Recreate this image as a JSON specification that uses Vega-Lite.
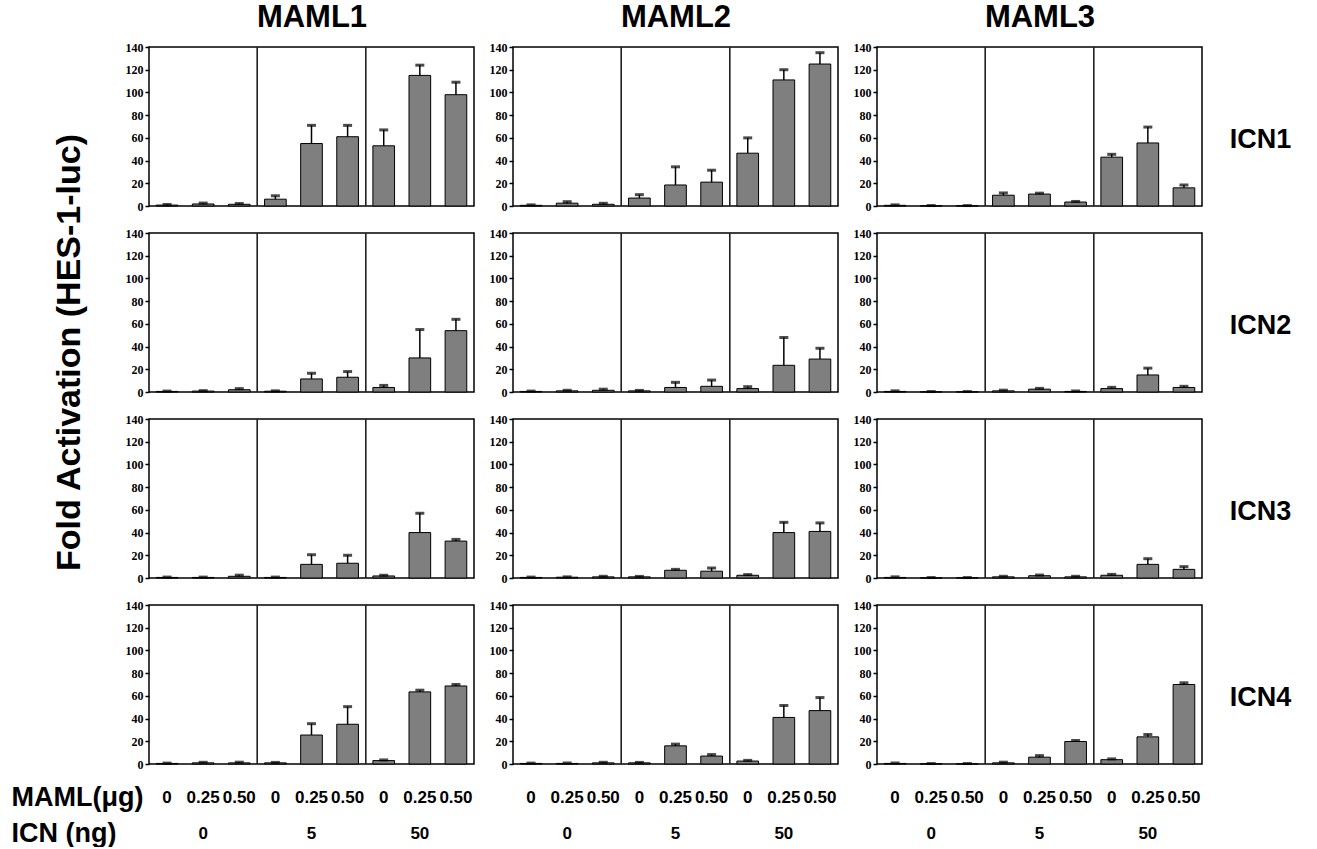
{
"$schema": "https://vega.github.io/schema/vega-lite/v6.json",
"background": "white",
"padding": {"left": 10, "top": 0, "right": 5, "bottom": 0},
"datasets": {"d": [
{"m":"MAML1","i":"ICN1","dose":"0","bar":"0_0","v":0.8,"hi":1.3},
{"m":"MAML1","i":"ICN1","dose":"0","bar":"0_0.25","v":1.8,"hi":2.6},
{"m":"MAML1","i":"ICN1","dose":"0","bar":"0_0.50","v":1.5,"hi":2.2},
{"m":"MAML1","i":"ICN1","dose":"5","bar":"5_0","v":6,"hi":9},
{"m":"MAML1","i":"ICN1","dose":"5","bar":"5_0.25","v":55,"hi":71},
{"m":"MAML1","i":"ICN1","dose":"5","bar":"5_0.50","v":61,"hi":71},
{"m":"MAML1","i":"ICN1","dose":"50","bar":"50_0","v":53,"hi":67},
{"m":"MAML1","i":"ICN1","dose":"50","bar":"50_0.25","v":115,"hi":124},
{"m":"MAML1","i":"ICN1","dose":"50","bar":"50_0.50","v":98,"hi":109},
{"m":"MAML2","i":"ICN1","dose":"0","bar":"0_0","v":0.6,"hi":1},
{"m":"MAML2","i":"ICN1","dose":"0","bar":"0_0.25","v":2.5,"hi":3.8},
{"m":"MAML2","i":"ICN1","dose":"0","bar":"0_0.50","v":1.5,"hi":2.4},
{"m":"MAML2","i":"ICN1","dose":"5","bar":"5_0","v":7,"hi":10},
{"m":"MAML2","i":"ICN1","dose":"5","bar":"5_0.25","v":18.5,"hi":34.5},
{"m":"MAML2","i":"ICN1","dose":"5","bar":"5_0.50","v":21,"hi":31.5},
{"m":"MAML2","i":"ICN1","dose":"50","bar":"50_0","v":46.5,"hi":60},
{"m":"MAML2","i":"ICN1","dose":"50","bar":"50_0.25","v":111,"hi":120},
{"m":"MAML2","i":"ICN1","dose":"50","bar":"50_0.50","v":125,"hi":135},
{"m":"MAML3","i":"ICN1","dose":"0","bar":"0_0","v":0.6,"hi":1},
{"m":"MAML3","i":"ICN1","dose":"0","bar":"0_0.25","v":0.2,"hi":0.4},
{"m":"MAML3","i":"ICN1","dose":"0","bar":"0_0.50","v":0.2,"hi":0.4},
{"m":"MAML3","i":"ICN1","dose":"5","bar":"5_0","v":9.5,"hi":11.5},
{"m":"MAML3","i":"ICN1","dose":"5","bar":"5_0.25","v":10.5,"hi":11.3},
{"m":"MAML3","i":"ICN1","dose":"5","bar":"5_0.50","v":3.5,"hi":4},
{"m":"MAML3","i":"ICN1","dose":"50","bar":"50_0","v":43,"hi":45.5},
{"m":"MAML3","i":"ICN1","dose":"50","bar":"50_0.25","v":55.5,"hi":69.5},
{"m":"MAML3","i":"ICN1","dose":"50","bar":"50_0.50","v":16,"hi":18.5},
{"m":"MAML1","i":"ICN2","dose":"0","bar":"0_0","v":0.5,"hi":0.8},
{"m":"MAML1","i":"ICN2","dose":"0","bar":"0_0.25","v":0.8,"hi":1.2},
{"m":"MAML1","i":"ICN2","dose":"0","bar":"0_0.50","v":2,"hi":3},
{"m":"MAML1","i":"ICN2","dose":"5","bar":"5_0","v":0.7,"hi":1},
{"m":"MAML1","i":"ICN2","dose":"5","bar":"5_0.25","v":11.5,"hi":16.5},
{"m":"MAML1","i":"ICN2","dose":"5","bar":"5_0.50","v":13,"hi":18},
{"m":"MAML1","i":"ICN2","dose":"50","bar":"50_0","v":4,"hi":5.8},
{"m":"MAML1","i":"ICN2","dose":"50","bar":"50_0.25","v":30,"hi":55},
{"m":"MAML1","i":"ICN2","dose":"50","bar":"50_0.50","v":54,"hi":64},
{"m":"MAML2","i":"ICN2","dose":"0","bar":"0_0","v":0.5,"hi":0.8},
{"m":"MAML2","i":"ICN2","dose":"0","bar":"0_0.25","v":1,"hi":1.5},
{"m":"MAML2","i":"ICN2","dose":"0","bar":"0_0.50","v":1.5,"hi":2.5},
{"m":"MAML2","i":"ICN2","dose":"5","bar":"5_0","v":1,"hi":1.4},
{"m":"MAML2","i":"ICN2","dose":"5","bar":"5_0.25","v":4,"hi":8.5},
{"m":"MAML2","i":"ICN2","dose":"5","bar":"5_0.50","v":5,"hi":10.5},
{"m":"MAML2","i":"ICN2","dose":"50","bar":"50_0","v":3,"hi":4.7},
{"m":"MAML2","i":"ICN2","dose":"50","bar":"50_0.25","v":23.5,"hi":48},
{"m":"MAML2","i":"ICN2","dose":"50","bar":"50_0.50","v":29,"hi":38.5},
{"m":"MAML3","i":"ICN2","dose":"0","bar":"0_0","v":0.5,"hi":1},
{"m":"MAML3","i":"ICN2","dose":"0","bar":"0_0.25","v":0.2,"hi":0.4},
{"m":"MAML3","i":"ICN2","dose":"0","bar":"0_0.50","v":0.2,"hi":0.4},
{"m":"MAML3","i":"ICN2","dose":"5","bar":"5_0","v":1,"hi":1.6},
{"m":"MAML3","i":"ICN2","dose":"5","bar":"5_0.25","v":2.5,"hi":3.2},
{"m":"MAML3","i":"ICN2","dose":"5","bar":"5_0.50","v":0.5,"hi":0.9},
{"m":"MAML3","i":"ICN2","dose":"50","bar":"50_0","v":3,"hi":4.1},
{"m":"MAML3","i":"ICN2","dose":"50","bar":"50_0.25","v":15,"hi":21},
{"m":"MAML3","i":"ICN2","dose":"50","bar":"50_0.50","v":4,"hi":5},
{"m":"MAML1","i":"ICN3","dose":"0","bar":"0_0","v":0.5,"hi":0.8},
{"m":"MAML1","i":"ICN3","dose":"0","bar":"0_0.25","v":0.5,"hi":0.8},
{"m":"MAML1","i":"ICN3","dose":"0","bar":"0_0.50","v":1.5,"hi":2.5},
{"m":"MAML1","i":"ICN3","dose":"5","bar":"5_0","v":0.5,"hi":0.8},
{"m":"MAML1","i":"ICN3","dose":"5","bar":"5_0.25","v":12,"hi":20.5},
{"m":"MAML1","i":"ICN3","dose":"5","bar":"5_0.50","v":13,"hi":20},
{"m":"MAML1","i":"ICN3","dose":"50","bar":"50_0","v":1.8,"hi":2.4},
{"m":"MAML1","i":"ICN3","dose":"50","bar":"50_0.25","v":40,"hi":57},
{"m":"MAML1","i":"ICN3","dose":"50","bar":"50_0.50","v":32.5,"hi":34},
{"m":"MAML2","i":"ICN3","dose":"0","bar":"0_0","v":0.5,"hi":0.8},
{"m":"MAML2","i":"ICN3","dose":"0","bar":"0_0.25","v":0.7,"hi":1},
{"m":"MAML2","i":"ICN3","dose":"0","bar":"0_0.50","v":1,"hi":1.5},
{"m":"MAML2","i":"ICN3","dose":"5","bar":"5_0","v":1,"hi":1.4},
{"m":"MAML2","i":"ICN3","dose":"5","bar":"5_0.25","v":6.8,"hi":7.6},
{"m":"MAML2","i":"ICN3","dose":"5","bar":"5_0.50","v":6,"hi":8.8},
{"m":"MAML2","i":"ICN3","dose":"50","bar":"50_0","v":2.4,"hi":3},
{"m":"MAML2","i":"ICN3","dose":"50","bar":"50_0.25","v":40,"hi":49},
{"m":"MAML2","i":"ICN3","dose":"50","bar":"50_0.50","v":41,"hi":48.5},
{"m":"MAML3","i":"ICN3","dose":"0","bar":"0_0","v":0.5,"hi":1},
{"m":"MAML3","i":"ICN3","dose":"0","bar":"0_0.25","v":0.2,"hi":0.4},
{"m":"MAML3","i":"ICN3","dose":"0","bar":"0_0.50","v":0.2,"hi":0.4},
{"m":"MAML3","i":"ICN3","dose":"5","bar":"5_0","v":1,"hi":1.5},
{"m":"MAML3","i":"ICN3","dose":"5","bar":"5_0.25","v":2,"hi":2.6},
{"m":"MAML3","i":"ICN3","dose":"5","bar":"5_0.50","v":1,"hi":1.5},
{"m":"MAML3","i":"ICN3","dose":"50","bar":"50_0","v":2.4,"hi":3.2},
{"m":"MAML3","i":"ICN3","dose":"50","bar":"50_0.25","v":12,"hi":17},
{"m":"MAML3","i":"ICN3","dose":"50","bar":"50_0.50","v":7.6,"hi":10},
{"m":"MAML1","i":"ICN4","dose":"0","bar":"0_0","v":0.5,"hi":0.8},
{"m":"MAML1","i":"ICN4","dose":"0","bar":"0_0.25","v":1,"hi":1.5},
{"m":"MAML1","i":"ICN4","dose":"0","bar":"0_0.50","v":1,"hi":1.6},
{"m":"MAML1","i":"ICN4","dose":"5","bar":"5_0","v":1,"hi":1.4},
{"m":"MAML1","i":"ICN4","dose":"5","bar":"5_0.25","v":25.5,"hi":35.5},
{"m":"MAML1","i":"ICN4","dose":"5","bar":"5_0.50","v":35,"hi":50.5},
{"m":"MAML1","i":"ICN4","dose":"50","bar":"50_0","v":3,"hi":3.6},
{"m":"MAML1","i":"ICN4","dose":"50","bar":"50_0.25","v":63.5,"hi":65},
{"m":"MAML1","i":"ICN4","dose":"50","bar":"50_0.50","v":68.7,"hi":70},
{"m":"MAML2","i":"ICN4","dose":"0","bar":"0_0","v":0.5,"hi":0.8},
{"m":"MAML2","i":"ICN4","dose":"0","bar":"0_0.25","v":0.5,"hi":0.9},
{"m":"MAML2","i":"ICN4","dose":"0","bar":"0_0.50","v":1,"hi":1.5},
{"m":"MAML2","i":"ICN4","dose":"5","bar":"5_0","v":1,"hi":1.4},
{"m":"MAML2","i":"ICN4","dose":"5","bar":"5_0.25","v":16,"hi":17.5},
{"m":"MAML2","i":"ICN4","dose":"5","bar":"5_0.50","v":7,"hi":8.3},
{"m":"MAML2","i":"ICN4","dose":"50","bar":"50_0","v":2.6,"hi":3.2},
{"m":"MAML2","i":"ICN4","dose":"50","bar":"50_0.25","v":41,"hi":51.5},
{"m":"MAML2","i":"ICN4","dose":"50","bar":"50_0.50","v":47,"hi":58.5},
{"m":"MAML3","i":"ICN4","dose":"0","bar":"0_0","v":0.5,"hi":0.9},
{"m":"MAML3","i":"ICN4","dose":"0","bar":"0_0.25","v":0.2,"hi":0.4},
{"m":"MAML3","i":"ICN4","dose":"0","bar":"0_0.50","v":0.2,"hi":0.4},
{"m":"MAML3","i":"ICN4","dose":"5","bar":"5_0","v":1,"hi":1.6},
{"m":"MAML3","i":"ICN4","dose":"5","bar":"5_0.25","v":6,"hi":7.4},
{"m":"MAML3","i":"ICN4","dose":"5","bar":"5_0.50","v":19.8,"hi":20.7},
{"m":"MAML3","i":"ICN4","dose":"50","bar":"50_0","v":3.8,"hi":4.5},
{"m":"MAML3","i":"ICN4","dose":"50","bar":"50_0.25","v":23.9,"hi":26},
{"m":"MAML3","i":"ICN4","dose":"50","bar":"50_0.50","v":70,"hi":71.5}
]},
"data": {"name": "d"},
"bounds": "flush",
"columns": 3,
"spacing": {"row": 27, "column": 39},
"concat": [
{"width":325,"height":159,"transform":[{"filter":"datum.m=='MAML1' && datum.i=='ICN1'"}],
 "layer":[{"layer":[
  {"mark":{"type":"bar","fill":"#7f7f7f","stroke":"black","strokeWidth":1},"encoding":{"x":{"field":"bar","type":"nominal","scale":{"domain":["0_0","0_0.25","0_0.50","5_0","5_0.25","5_0.50","50_0","50_0.25","50_0.50"],"paddingInner":0.4,"paddingOuter":0.2},"axis":{"orient":"top","labels":false,"title":"MAML1","titleFontSize":31,"titlePadding":14}},"y":{"field":"v","type":"quantitative","scale":{"domain":[0,140]},"axis":{"title":null,"tickCount":10,"labelOverlap":false,"values":[0,20,40,60,80,100,120,140]}}}},
  {"mark":{"type":"rule","color":"black","strokeWidth":1.5},"encoding":{"x":{"field":"bar","type":"nominal"},"y":{"field":"v","type":"quantitative"},"y2":{"field":"hi"}}},
  {"mark":{"type":"tick","color":"black","thickness":3,"size":9},"encoding":{"x":{"field":"bar","type":"nominal"},"y":{"field":"hi","type":"quantitative"}}}]},
  {"transform":[{"filter":"datum.dose != '0'"}],"mark":{"type":"rule","color":"#222","strokeWidth":1.2},"encoding":{"x":{"field":"dose","type":"nominal","bandPosition":0,"scale":{"type":"band","domain":["0","5","50"],"paddingInner":0,"paddingOuter":0},"axis":null}}}],
 "resolve":{"scale":{"x":"independent"}}},
{"width":325,"height":159,"transform":[{"filter":"datum.m=='MAML2' && datum.i=='ICN1'"}],
 "layer":[{"layer":[
  {"mark":{"type":"bar","fill":"#7f7f7f","stroke":"black","strokeWidth":1},"encoding":{"x":{"field":"bar","type":"nominal","scale":{"domain":["0_0","0_0.25","0_0.50","5_0","5_0.25","5_0.50","50_0","50_0.25","50_0.50"],"paddingInner":0.4,"paddingOuter":0.2},"axis":{"orient":"top","labels":false,"title":"MAML2","titleFontSize":31,"titlePadding":14}},"y":{"field":"v","type":"quantitative","scale":{"domain":[0,140]},"axis":{"title":null,"tickCount":10,"labelOverlap":false,"values":[0,20,40,60,80,100,120,140]}}}},
  {"mark":{"type":"rule","color":"black","strokeWidth":1.5},"encoding":{"x":{"field":"bar","type":"nominal"},"y":{"field":"v","type":"quantitative"},"y2":{"field":"hi"}}},
  {"mark":{"type":"tick","color":"black","thickness":3,"size":9},"encoding":{"x":{"field":"bar","type":"nominal"},"y":{"field":"hi","type":"quantitative"}}}]},
  {"transform":[{"filter":"datum.dose != '0'"}],"mark":{"type":"rule","color":"#222","strokeWidth":1.2},"encoding":{"x":{"field":"dose","type":"nominal","bandPosition":0,"scale":{"type":"band","domain":["0","5","50"],"paddingInner":0,"paddingOuter":0},"axis":null}}}],
 "resolve":{"scale":{"x":"independent"}}},
{"width":325,"height":159,"transform":[{"filter":"datum.m=='MAML3' && datum.i=='ICN1'"}],
 "title":{"text":"ICN1"},
 "layer":[{"layer":[
  {"mark":{"type":"bar","fill":"#7f7f7f","stroke":"black","strokeWidth":1},"encoding":{"x":{"field":"bar","type":"nominal","scale":{"domain":["0_0","0_0.25","0_0.50","5_0","5_0.25","5_0.50","50_0","50_0.25","50_0.50"],"paddingInner":0.4,"paddingOuter":0.2},"axis":{"orient":"top","labels":false,"title":"MAML3","titleFontSize":31,"titlePadding":14}},"y":{"field":"v","type":"quantitative","scale":{"domain":[0,140]},"axis":{"title":null,"tickCount":10,"labelOverlap":false,"values":[0,20,40,60,80,100,120,140]}}}},
  {"mark":{"type":"rule","color":"black","strokeWidth":1.5},"encoding":{"x":{"field":"bar","type":"nominal"},"y":{"field":"v","type":"quantitative"},"y2":{"field":"hi"}}},
  {"mark":{"type":"tick","color":"black","thickness":3,"size":9},"encoding":{"x":{"field":"bar","type":"nominal"},"y":{"field":"hi","type":"quantitative"}}}]},
  {"transform":[{"filter":"datum.dose != '0'"}],"mark":{"type":"rule","color":"#222","strokeWidth":1.2},"encoding":{"x":{"field":"dose","type":"nominal","bandPosition":0,"scale":{"type":"band","domain":["0","5","50"],"paddingInner":0,"paddingOuter":0},"axis":null}}}],
 "resolve":{"scale":{"x":"independent"}}},
{"width":325,"height":159,"transform":[{"filter":"datum.m=='MAML1' && datum.i=='ICN2'"}],
 "layer":[{"layer":[
  {"mark":{"type":"bar","fill":"#7f7f7f","stroke":"black","strokeWidth":1},"encoding":{"x":{"field":"bar","type":"nominal","scale":{"domain":["0_0","0_0.25","0_0.50","5_0","5_0.25","5_0.50","50_0","50_0.25","50_0.50"],"paddingInner":0.4,"paddingOuter":0.2},"axis":null},"y":{"field":"v","type":"quantitative","scale":{"domain":[0,140]},"axis":{"tickCount":10,"labelOverlap":false,"values":[0,20,40,60,80,100,120,140],"title":"Fold Activation (HES-1-luc)","titleX":-80,"titleY":119,"titleAngle":-90,"titleAlign":"center","titleBaseline":"middle","titleFontSize":34}}}},
  {"mark":{"type":"rule","color":"black","strokeWidth":1.5},"encoding":{"x":{"field":"bar","type":"nominal"},"y":{"field":"v","type":"quantitative"},"y2":{"field":"hi"}}},
  {"mark":{"type":"tick","color":"black","thickness":3,"size":9},"encoding":{"x":{"field":"bar","type":"nominal"},"y":{"field":"hi","type":"quantitative"}}}]},
  {"transform":[{"filter":"datum.dose != '0'"}],"mark":{"type":"rule","color":"#222","strokeWidth":1.2},"encoding":{"x":{"field":"dose","type":"nominal","bandPosition":0,"scale":{"type":"band","domain":["0","5","50"],"paddingInner":0,"paddingOuter":0},"axis":null}}}],
 "resolve":{"scale":{"x":"independent"}}},
{"width":325,"height":159,"transform":[{"filter":"datum.m=='MAML2' && datum.i=='ICN2'"}],
 "layer":[{"layer":[
  {"mark":{"type":"bar","fill":"#7f7f7f","stroke":"black","strokeWidth":1},"encoding":{"x":{"field":"bar","type":"nominal","scale":{"domain":["0_0","0_0.25","0_0.50","5_0","5_0.25","5_0.50","50_0","50_0.25","50_0.50"],"paddingInner":0.4,"paddingOuter":0.2},"axis":null},"y":{"field":"v","type":"quantitative","scale":{"domain":[0,140]},"axis":{"title":null,"tickCount":10,"labelOverlap":false,"values":[0,20,40,60,80,100,120,140]}}}},
  {"mark":{"type":"rule","color":"black","strokeWidth":1.5},"encoding":{"x":{"field":"bar","type":"nominal"},"y":{"field":"v","type":"quantitative"},"y2":{"field":"hi"}}},
  {"mark":{"type":"tick","color":"black","thickness":3,"size":9},"encoding":{"x":{"field":"bar","type":"nominal"},"y":{"field":"hi","type":"quantitative"}}}]},
  {"transform":[{"filter":"datum.dose != '0'"}],"mark":{"type":"rule","color":"#222","strokeWidth":1.2},"encoding":{"x":{"field":"dose","type":"nominal","bandPosition":0,"scale":{"type":"band","domain":["0","5","50"],"paddingInner":0,"paddingOuter":0},"axis":null}}}],
 "resolve":{"scale":{"x":"independent"}}},
{"width":325,"height":159,"transform":[{"filter":"datum.m=='MAML3' && datum.i=='ICN2'"}],
 "title":{"text":"ICN2"},
 "layer":[{"layer":[
  {"mark":{"type":"bar","fill":"#7f7f7f","stroke":"black","strokeWidth":1},"encoding":{"x":{"field":"bar","type":"nominal","scale":{"domain":["0_0","0_0.25","0_0.50","5_0","5_0.25","5_0.50","50_0","50_0.25","50_0.50"],"paddingInner":0.4,"paddingOuter":0.2},"axis":null},"y":{"field":"v","type":"quantitative","scale":{"domain":[0,140]},"axis":{"title":null,"tickCount":10,"labelOverlap":false,"values":[0,20,40,60,80,100,120,140]}}}},
  {"mark":{"type":"rule","color":"black","strokeWidth":1.5},"encoding":{"x":{"field":"bar","type":"nominal"},"y":{"field":"v","type":"quantitative"},"y2":{"field":"hi"}}},
  {"mark":{"type":"tick","color":"black","thickness":3,"size":9},"encoding":{"x":{"field":"bar","type":"nominal"},"y":{"field":"hi","type":"quantitative"}}}]},
  {"transform":[{"filter":"datum.dose != '0'"}],"mark":{"type":"rule","color":"#222","strokeWidth":1.2},"encoding":{"x":{"field":"dose","type":"nominal","bandPosition":0,"scale":{"type":"band","domain":["0","5","50"],"paddingInner":0,"paddingOuter":0},"axis":null}}}],
 "resolve":{"scale":{"x":"independent"}}},
{"width":325,"height":159,"transform":[{"filter":"datum.m=='MAML1' && datum.i=='ICN3'"}],
 "layer":[{"layer":[
  {"mark":{"type":"bar","fill":"#7f7f7f","stroke":"black","strokeWidth":1},"encoding":{"x":{"field":"bar","type":"nominal","scale":{"domain":["0_0","0_0.25","0_0.50","5_0","5_0.25","5_0.50","50_0","50_0.25","50_0.50"],"paddingInner":0.4,"paddingOuter":0.2},"axis":null},"y":{"field":"v","type":"quantitative","scale":{"domain":[0,140]},"axis":{"title":null,"tickCount":10,"labelOverlap":false,"values":[0,20,40,60,80,100,120,140]}}}},
  {"mark":{"type":"rule","color":"black","strokeWidth":1.5},"encoding":{"x":{"field":"bar","type":"nominal"},"y":{"field":"v","type":"quantitative"},"y2":{"field":"hi"}}},
  {"mark":{"type":"tick","color":"black","thickness":3,"size":9},"encoding":{"x":{"field":"bar","type":"nominal"},"y":{"field":"hi","type":"quantitative"}}}]},
  {"transform":[{"filter":"datum.dose != '0'"}],"mark":{"type":"rule","color":"#222","strokeWidth":1.2},"encoding":{"x":{"field":"dose","type":"nominal","bandPosition":0,"scale":{"type":"band","domain":["0","5","50"],"paddingInner":0,"paddingOuter":0},"axis":null}}}],
 "resolve":{"scale":{"x":"independent"}}},
{"width":325,"height":159,"transform":[{"filter":"datum.m=='MAML2' && datum.i=='ICN3'"}],
 "layer":[{"layer":[
  {"mark":{"type":"bar","fill":"#7f7f7f","stroke":"black","strokeWidth":1},"encoding":{"x":{"field":"bar","type":"nominal","scale":{"domain":["0_0","0_0.25","0_0.50","5_0","5_0.25","5_0.50","50_0","50_0.25","50_0.50"],"paddingInner":0.4,"paddingOuter":0.2},"axis":null},"y":{"field":"v","type":"quantitative","scale":{"domain":[0,140]},"axis":{"title":null,"tickCount":10,"labelOverlap":false,"values":[0,20,40,60,80,100,120,140]}}}},
  {"mark":{"type":"rule","color":"black","strokeWidth":1.5},"encoding":{"x":{"field":"bar","type":"nominal"},"y":{"field":"v","type":"quantitative"},"y2":{"field":"hi"}}},
  {"mark":{"type":"tick","color":"black","thickness":3,"size":9},"encoding":{"x":{"field":"bar","type":"nominal"},"y":{"field":"hi","type":"quantitative"}}}]},
  {"transform":[{"filter":"datum.dose != '0'"}],"mark":{"type":"rule","color":"#222","strokeWidth":1.2},"encoding":{"x":{"field":"dose","type":"nominal","bandPosition":0,"scale":{"type":"band","domain":["0","5","50"],"paddingInner":0,"paddingOuter":0},"axis":null}}}],
 "resolve":{"scale":{"x":"independent"}}},
{"width":325,"height":159,"transform":[{"filter":"datum.m=='MAML3' && datum.i=='ICN3'"}],
 "title":{"text":"ICN3"},
 "layer":[{"layer":[
  {"mark":{"type":"bar","fill":"#7f7f7f","stroke":"black","strokeWidth":1},"encoding":{"x":{"field":"bar","type":"nominal","scale":{"domain":["0_0","0_0.25","0_0.50","5_0","5_0.25","5_0.50","50_0","50_0.25","50_0.50"],"paddingInner":0.4,"paddingOuter":0.2},"axis":null},"y":{"field":"v","type":"quantitative","scale":{"domain":[0,140]},"axis":{"title":null,"tickCount":10,"labelOverlap":false,"values":[0,20,40,60,80,100,120,140]}}}},
  {"mark":{"type":"rule","color":"black","strokeWidth":1.5},"encoding":{"x":{"field":"bar","type":"nominal"},"y":{"field":"v","type":"quantitative"},"y2":{"field":"hi"}}},
  {"mark":{"type":"tick","color":"black","thickness":3,"size":9},"encoding":{"x":{"field":"bar","type":"nominal"},"y":{"field":"hi","type":"quantitative"}}}]},
  {"transform":[{"filter":"datum.dose != '0'"}],"mark":{"type":"rule","color":"#222","strokeWidth":1.2},"encoding":{"x":{"field":"dose","type":"nominal","bandPosition":0,"scale":{"type":"band","domain":["0","5","50"],"paddingInner":0,"paddingOuter":0},"axis":null}}}],
 "resolve":{"scale":{"x":"independent"}}},
{"width":325,"height":159,"transform":[{"filter":"datum.m=='MAML1' && datum.i=='ICN4'"}],
 "layer":[{"layer":[
  {"mark":{"type":"bar","fill":"#7f7f7f","stroke":"black","strokeWidth":1},"encoding":{"x":{"field":"bar","type":"nominal","scale":{"domain":["0_0","0_0.25","0_0.50","5_0","5_0.25","5_0.50","50_0","50_0.25","50_0.50"],"paddingInner":0.4,"paddingOuter":0.2},"axis":{"orient":"bottom","labelExpr":"split(datum.value,'_')[1]","labelPadding":25,"title":"MAML(μg)","titleX":-138,"titleY":33,"titleAlign":"left","titleBaseline":"middle","titleAngle":0}},"y":{"field":"v","type":"quantitative","scale":{"domain":[0,140]},"axis":{"title":null,"tickCount":10,"labelOverlap":false,"values":[0,20,40,60,80,100,120,140]}}}},
  {"mark":{"type":"rule","color":"black","strokeWidth":1.5},"encoding":{"x":{"field":"bar","type":"nominal"},"y":{"field":"v","type":"quantitative"},"y2":{"field":"hi"}}},
  {"mark":{"type":"tick","color":"black","thickness":3,"size":9},"encoding":{"x":{"field":"bar","type":"nominal"},"y":{"field":"hi","type":"quantitative"}}}]},
  {"transform":[{"filter":"datum.dose != '0'"}],"mark":{"type":"rule","color":"#222","strokeWidth":1.2},"encoding":{"x":{"field":"dose","type":"nominal","bandPosition":0,"scale":{"type":"band","domain":["0","5","50"],"paddingInner":0,"paddingOuter":0},"axis":{"orient":"bottom","labelPadding":61,"title":"ICN (ng)","titleX":-138,"titleY":69,"titleAlign":"left","titleBaseline":"middle","titleAngle":0}}}}],
 "resolve":{"scale":{"x":"independent"}}},
{"width":325,"height":159,"transform":[{"filter":"datum.m=='MAML2' && datum.i=='ICN4'"}],
 "layer":[{"layer":[
  {"mark":{"type":"bar","fill":"#7f7f7f","stroke":"black","strokeWidth":1},"encoding":{"x":{"field":"bar","type":"nominal","scale":{"domain":["0_0","0_0.25","0_0.50","5_0","5_0.25","5_0.50","50_0","50_0.25","50_0.50"],"paddingInner":0.4,"paddingOuter":0.2},"axis":{"orient":"bottom","labelExpr":"split(datum.value,'_')[1]","labelPadding":25,"title":null}},"y":{"field":"v","type":"quantitative","scale":{"domain":[0,140]},"axis":{"title":null,"tickCount":10,"labelOverlap":false,"values":[0,20,40,60,80,100,120,140]}}}},
  {"mark":{"type":"rule","color":"black","strokeWidth":1.5},"encoding":{"x":{"field":"bar","type":"nominal"},"y":{"field":"v","type":"quantitative"},"y2":{"field":"hi"}}},
  {"mark":{"type":"tick","color":"black","thickness":3,"size":9},"encoding":{"x":{"field":"bar","type":"nominal"},"y":{"field":"hi","type":"quantitative"}}}]},
  {"transform":[{"filter":"datum.dose != '0'"}],"mark":{"type":"rule","color":"#222","strokeWidth":1.2},"encoding":{"x":{"field":"dose","type":"nominal","bandPosition":0,"scale":{"type":"band","domain":["0","5","50"],"paddingInner":0,"paddingOuter":0},"axis":{"orient":"bottom","labelPadding":61,"title":null}}}}],
 "resolve":{"scale":{"x":"independent"}}},
{"width":325,"height":159,"transform":[{"filter":"datum.m=='MAML3' && datum.i=='ICN4'"}],
 "title":{"text":"ICN4"},
 "layer":[{"layer":[
  {"mark":{"type":"bar","fill":"#7f7f7f","stroke":"black","strokeWidth":1},"encoding":{"x":{"field":"bar","type":"nominal","scale":{"domain":["0_0","0_0.25","0_0.50","5_0","5_0.25","5_0.50","50_0","50_0.25","50_0.50"],"paddingInner":0.4,"paddingOuter":0.2},"axis":{"orient":"bottom","labelExpr":"split(datum.value,'_')[1]","labelPadding":25,"title":null}},"y":{"field":"v","type":"quantitative","scale":{"domain":[0,140]},"axis":{"title":null,"tickCount":10,"labelOverlap":false,"values":[0,20,40,60,80,100,120,140]}}}},
  {"mark":{"type":"rule","color":"black","strokeWidth":1.5},"encoding":{"x":{"field":"bar","type":"nominal"},"y":{"field":"v","type":"quantitative"},"y2":{"field":"hi"}}},
  {"mark":{"type":"tick","color":"black","thickness":3,"size":9},"encoding":{"x":{"field":"bar","type":"nominal"},"y":{"field":"hi","type":"quantitative"}}}]},
  {"transform":[{"filter":"datum.dose != '0'"}],"mark":{"type":"rule","color":"#222","strokeWidth":1.2},"encoding":{"x":{"field":"dose","type":"nominal","bandPosition":0,"scale":{"type":"band","domain":["0","5","50"],"paddingInner":0,"paddingOuter":0},"axis":{"orient":"bottom","labelPadding":61,"title":null}}}}],
 "resolve":{"scale":{"x":"independent"}}}
],
"config": {
 "font": "Liberation Sans",
 "view": {"stroke": "black", "strokeWidth": 1.5},
 "axisY": {"grid": false, "domain": false, "labelOverlap": false, "labelFlush": false, "tickSize": 4, "tickWidth": 1.5, "tickColor": "black", "labelPadding": 2, "labelFont": "Liberation Serif", "labelFontWeight": "bold", "labelFontSize": 12, "labelColor": "black", "titleFont": "Liberation Sans", "titleFontWeight": "bold", "titleColor": "black"},
 "axisX": {"grid": false, "domain": false, "ticks": false, "labelAngle": 0, "labelOverlap": false, "labelBaseline": "top", "labelFont": "Liberation Sans", "labelFontWeight": "bold", "labelFontSize": 17, "labelColor": "black", "titleFont": "Liberation Sans", "titleFontWeight": "bold", "titleFontSize": 27, "titleColor": "black", "titlePadding": 10},
 "title": {"orient": "right", "angle": 0, "align": "left", "baseline": "middle", "anchor": "middle", "offset": -3, "font": "Liberation Sans", "fontWeight": "bold", "fontSize": 27, "color": "black"}
}
}
